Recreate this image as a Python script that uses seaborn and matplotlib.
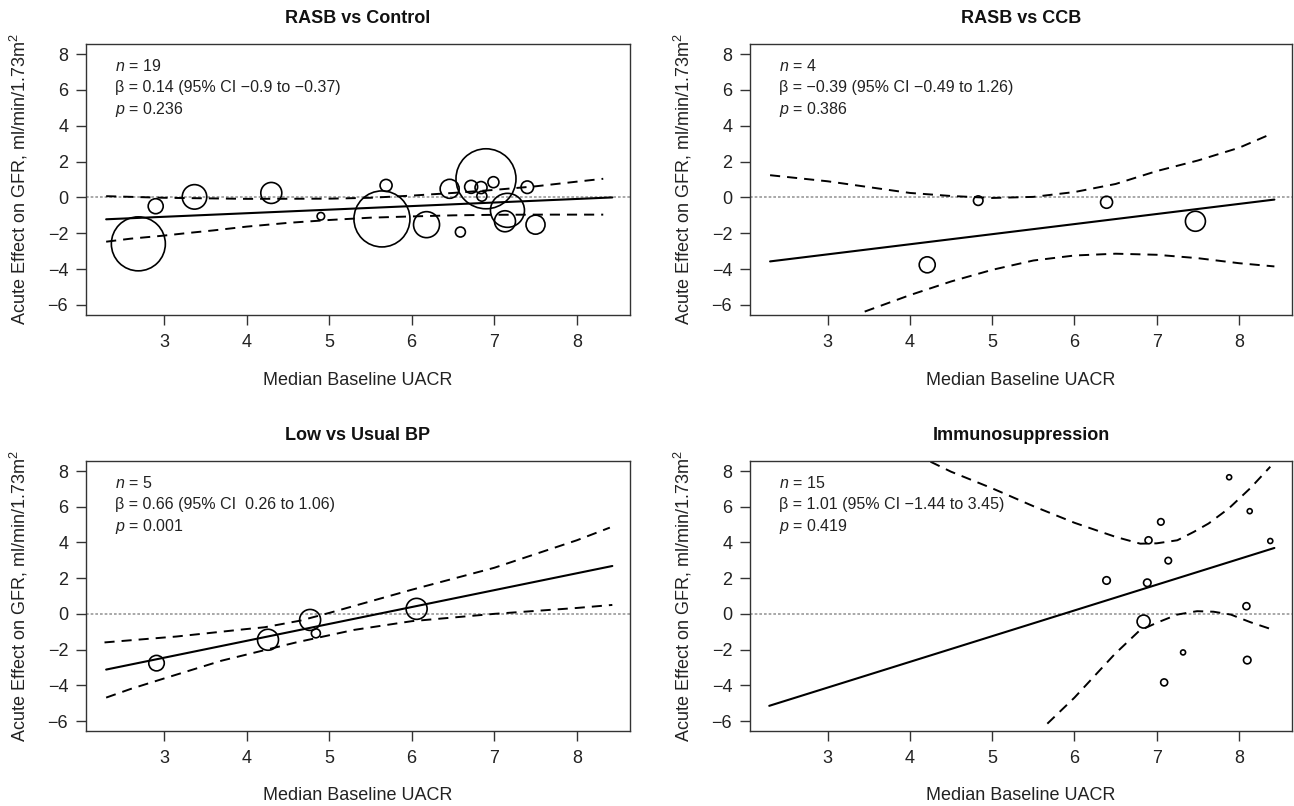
import numpy as np
import pandas as pd
import matplotlib
matplotlib.use("Agg")
import matplotlib.pyplot as plt
import seaborn as sns

# ---------------- data ----------------
titles = ["RASB vs Control", "RASB vs CCB", "Low vs Usual BP", "Immunosuppression"]
n_txt = ["19", "4", "5", "15"]
beta_txt = ["0.14 (95% CI \u22120.9 to \u22120.37)",
            "\u22120.39 (95% CI \u22120.49 to 1.26)",
            "0.66 (95% CI  0.26 to 1.06)",
            "1.01 (95% CI \u22121.44 to 3.45)"]
p_txt = ["0.236", "0.386", "0.001", "0.419"]

# study points (x = median baseline UACR, y = acute effect, w = bubble diameter / weight)
x1 = [2.69, 2.90, 3.37, 4.30, 4.90, 5.64, 5.69, 6.18, 6.46, 6.59, 6.72, 6.84, 6.85, 6.90, 6.99, 7.16, 7.13, 7.40, 7.50]
y1 = [-2.59, -0.49, 0.03, 0.25, -1.05, -1.20, 0.67, -1.52, 0.48, -1.93, 0.59, 0.55, 0.07, 1.04, 0.85, -0.72, -1.33, 0.57, -1.52]
w1 = [54, 15, 24.5, 21, 7.5, 56, 12, 26, 19, 10, 13, 12, 10, 60, 11, 34, 21, 12.5, 19]

x2 = [4.21, 4.83, 6.39, 7.47]
y2 = [-3.76, -0.18, -0.27, -1.33]
w2 = [16, 9.5, 12, 20]

x3 = [2.91, 4.26, 4.77, 4.84, 6.06]
y3 = [-2.76, -1.45, -0.34, -1.09, 0.28]
w3 = [15.5, 21, 21, 9, 21]

x4 = [6.39, 6.885, 6.84, 6.90, 7.05, 7.14, 7.88, 8.13, 8.38, 8.09, 7.32, 8.10, 7.09]
y4 = [1.87, 1.74, -0.43, 4.12, 5.15, 2.98, 7.65, 5.75, 4.08, 0.43, -2.16, -2.59, -3.84]
w4 = [7.5, 7.5, 13, 7, 6.5, 6.5, 5, 5, 5, 7, 5, 7.5, 7]

# fitted meta-regression lines
fx1, fy1 = [2.30, 8.43], [-1.22, 0.00]
fx2, fy2 = [2.30, 8.43], [-3.57, -0.12]
fx3, fy3 = [2.30, 8.43], [-3.12, 2.68]
fx4, fy4 = [2.29, 8.43], [-5.15, 3.69]

# 95% confidence bands
ux1 = [2.30, 3.0, 4.0, 5.0, 5.5, 6.0, 6.5, 7.0, 7.5, 8.0, 8.32]
uy1 = [0.07, -0.02, -0.08, -0.07, -0.02, 0.10, 0.25, 0.42, 0.62, 0.88, 1.04]
lx1 = [2.30, 2.6, 3.0, 3.3, 3.6, 4.0, 4.5, 5.0, 5.5, 6.0, 6.5, 7.0, 7.5, 8.32]
ly1 = [-2.47, -2.30, -2.13, -1.98, -1.84, -1.63, -1.42, -1.26, -1.13, -1.06, -1.00, -0.97, -0.96, -0.96]

ux2 = [2.30, 3.0, 4.0, 4.5, 5.0, 5.5, 6.0, 6.5, 7.0, 7.5, 8.0, 8.40]
uy2 = [1.24, 0.90, 0.25, 0.08, -0.03, 0.03, 0.30, 0.75, 1.47, 2.06, 2.77, 3.56]
lx2 = [3.45, 4.0, 4.5, 5.0, 5.5, 6.0, 6.5, 7.0, 7.5, 8.0, 8.43]
ly2 = [-6.37, -5.45, -4.69, -4.04, -3.52, -3.24, -3.14, -3.20, -3.39, -3.67, -3.85]

ux3 = [2.28, 2.83, 3.15, 4.0, 4.22, 4.65, 5.0, 6.0, 7.0, 8.0, 8.40]
uy3 = [-1.60, -1.39, -1.27, -0.85, -0.75, -0.38, 0.05, 1.35, 2.58, 4.12, 4.83]
lx3 = [2.30, 2.6, 3.0, 3.7, 4.0, 4.6, 5.0, 5.3, 6.0, 7.0, 8.0, 8.43]
ly3 = [-4.69, -4.20, -3.62, -2.62, -2.28, -1.60, -1.20, -0.90, -0.41, 0.00, 0.33, 0.50]

ux4 = [4.25, 4.5, 5.0, 5.5, 6.0, 6.5, 6.8, 7.0, 7.25, 7.45, 7.63, 7.875, 8.14, 8.38]
uy4 = [8.52, 7.96, 7.03, 6.03, 5.10, 4.31, 3.93, 3.95, 4.12, 4.59, 5.06, 5.90, 7.05, 8.24]
lx4 = [5.67, 6.0, 6.49, 6.79, 7.0, 7.25, 7.49, 7.69, 7.9, 8.14, 8.38]
ly4 = [-6.15, -4.69, -2.25, -0.94, -0.50, -0.04, 0.15, 0.12, -0.04, -0.47, -0.84]

xticks = [3, 4, 5, 6, 7, 8]
yticks = [-6, -4, -2, 0, 2, 4, 6, 8]

# ---------------- style ----------------
sns.set_theme(style="ticks")
plt.rcParams['font.family'] = ['Liberation Sans', 'DejaVu Sans']
plt.rcParams['mathtext.fontset'] = 'custom'
plt.rcParams['mathtext.it'] = 'Liberation Sans:italic'
plt.rcParams['mathtext.rm'] = 'Liberation Sans'
plt.rcParams['mathtext.bf'] = 'Liberation Sans:bold'

W, H = 1294, 806
fig = plt.figure(figsize=(W / 100, H / 100), dpi=100)

rects = [
    [86 / W, 1 - 315 / H, 544 / W, 271 / H],
    [750 / W, 1 - 315 / H, 542 / W, 271 / H],
    [86 / W, 1 - 731 / H, 544 / W, 270 / H],
    [750 / W, 1 - 731 / H, 542 / W, 270 / H],
]

panels = [
    (x1, y1, w1, fx1, fy1, ux1, uy1, lx1, ly1),
    (x2, y2, w2, fx2, fy2, ux2, uy2, lx2, ly2),
    (x3, y3, w3, fx3, fy3, ux3, uy3, lx3, ly3),
    (x4, y4, w4, fx4, fy4, ux4, uy4, lx4, ly4),
]

WMAX = 60.0
SMAX = (0.72 * WMAX) ** 2  # marker area in pt^2 for the largest bubble

for i, (rect, pan) in enumerate(zip(rects, panels)):
    px, py, pw, fx, fy, ux, uy, lx, ly = pan
    ax = fig.add_axes(rect)
    ax.set_xlim(2.056, 8.644)
    ax.set_ylim(-6.56, 8.56)

    ax.axhline(0, color='#9a9a9a', lw=1.2, linestyle=(0, (1.6, 1.2)), zorder=1)

    sns.lineplot(x=fx, y=fy, ax=ax, color='black', lw=1.5, sort=False,
                 estimator=None, zorder=2)
    for bx, by in ((ux, uy), (lx, ly)):
        sns.lineplot(x=bx, y=by, ax=ax, color='black', lw=1.4, sort=False,
                     estimator=None, linestyle=(0, (5.2, 3.6)), zorder=2)

    df = pd.DataFrame({'x': px, 'y': py, 'w': np.array(pw, float) ** 2})
    sns.scatterplot(data=df, x='x', y='y', size='w', sizes=(0, SMAX),
                    size_norm=(0, WMAX ** 2), legend=False, ax=ax,
                    color='black', edgecolor='black', linewidth=1.2, zorder=3)
    coll = ax.collections[-1]
    coll.set_facecolor('none')
    coll.set_edgecolor('black')
    coll.set_linewidth(1.2)

    ax.set_xticks(xticks)
    ax.set_yticks(yticks)
    ax.tick_params(direction='out', length=7.3, width=1, color='#333333',
                   labelsize=13, labelcolor='#222222')
    ax.tick_params(axis='x', pad=6.5)
    ax.tick_params(axis='y', pad=5.5)
    for s in ax.spines.values():
        s.set_color('#333333')
        s.set_linewidth(1.0)
        s.set_visible(True)

    ax.set_xlabel('Median Baseline UACR', fontsize=13, color='#222222')
    ax.xaxis.set_label_coords(0.5, -65 / 271)
    ax.xaxis.label.set_va('center')
    ax.set_ylabel('Acute Effect on GFR, ml/min/1.73m$^2$', fontsize=13, color='#222222')
    ax.yaxis.set_label_coords(-67 / 544, 0.5)
    ax.yaxis.label.set_va('center')

    ax.text(0.5, 1 + 26 / 271, titles[i], transform=ax.transAxes, ha='center',
            va='center', fontsize=13, fontweight='bold', color='#111111')

    tx = 0.053
    ax.text(tx, 0.919, '$n$ = ' + n_txt[i], transform=ax.transAxes, ha='left',
            va='center', fontsize=11.5, color='#222222')
    ax.text(tx, 0.838, '\u03b2 = ' + beta_txt[i], transform=ax.transAxes, ha='left',
            va='center', fontsize=11.5, color='#222222')
    ax.text(tx, 0.759, '$p$ = ' + p_txt[i], transform=ax.transAxes, ha='left',
            va='center', fontsize=11.5, color='#222222')

fig.savefig('out.png', dpi=100)
